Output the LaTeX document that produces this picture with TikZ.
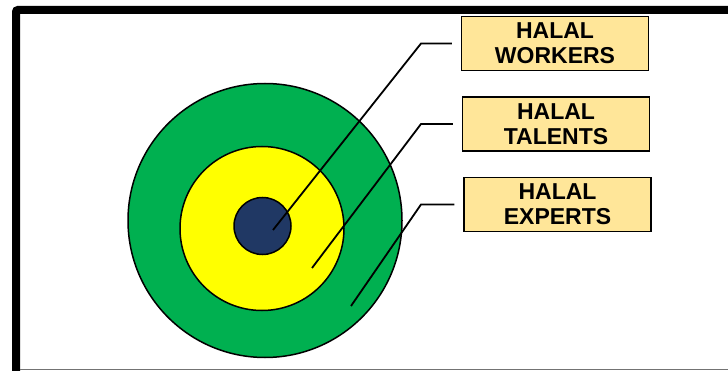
\documentclass[tikz,border=0pt]{standalone}
\usepackage{fontspec}
\setmainfont{Liberation Sans}
\usetikzlibrary{positioning}
\definecolor{ringgreen}{HTML}{00B050}
\definecolor{ringyellow}{HTML}{FFFF00}
\definecolor{coreblue}{HTML}{203864}
\definecolor{tagfill}{HTML}{FFE699}

\begin{document}
\begin{tikzpicture}[
    x=1pt, y=-1pt,
    ring/.style={circle, draw=black, line width=1.5pt, inner sep=0pt},
    tagbox/.style={draw=black, line width=1.3pt, fill=tagfill, minimum width=187pt, minimum height=54pt, inner sep=0pt, align=center, font=\fontsize{23}{25}\selectfont\bfseries},
    leader/.style={line width=1.8pt, shorten >=9pt},
]
\useasboundingbox (0,0) rectangle (728,371);
% frame
\draw[line width=8pt, rounded corners=2pt] (16,390) -- (16,10) -- (750,10);
\draw[black!55, line width=1.5pt] (20,369.5) -- (728,369.5);
% target
\node[ring, fill=ringgreen, minimum size=274pt] (experts) at (265,220.5) {};
\node[ring, fill=ringyellow, minimum size=164pt] (talents) at (262,228.5) {};
\node[ring, fill=coreblue, minimum size=57pt] (workers) at (262.5,226) {};
% labels
\node[tagbox] (tWorkers) at (555,43.5) {HALAL\\WORKERS};
\node[tagbox] (tTalents) at (556,124) {HALAL\\TALENTS};
\node[tagbox] (tExperts) at (557.5,204.5) {HALAL\\EXPERTS};
% leaders
\coordinate (pWorkers) at (273,230);
\coordinate (pTalents) at (312,268);
\coordinate (pExperts) at (351,306);
\draw[leader] (pWorkers) -- (421,43.5) -- (tWorkers.west);
\draw[leader] (pTalents) -- (421,124) -- (tTalents.west);
\draw[leader] (pExperts) -- (421,204.5) -- (tExperts.west);
\end{tikzpicture}
\end{document}
